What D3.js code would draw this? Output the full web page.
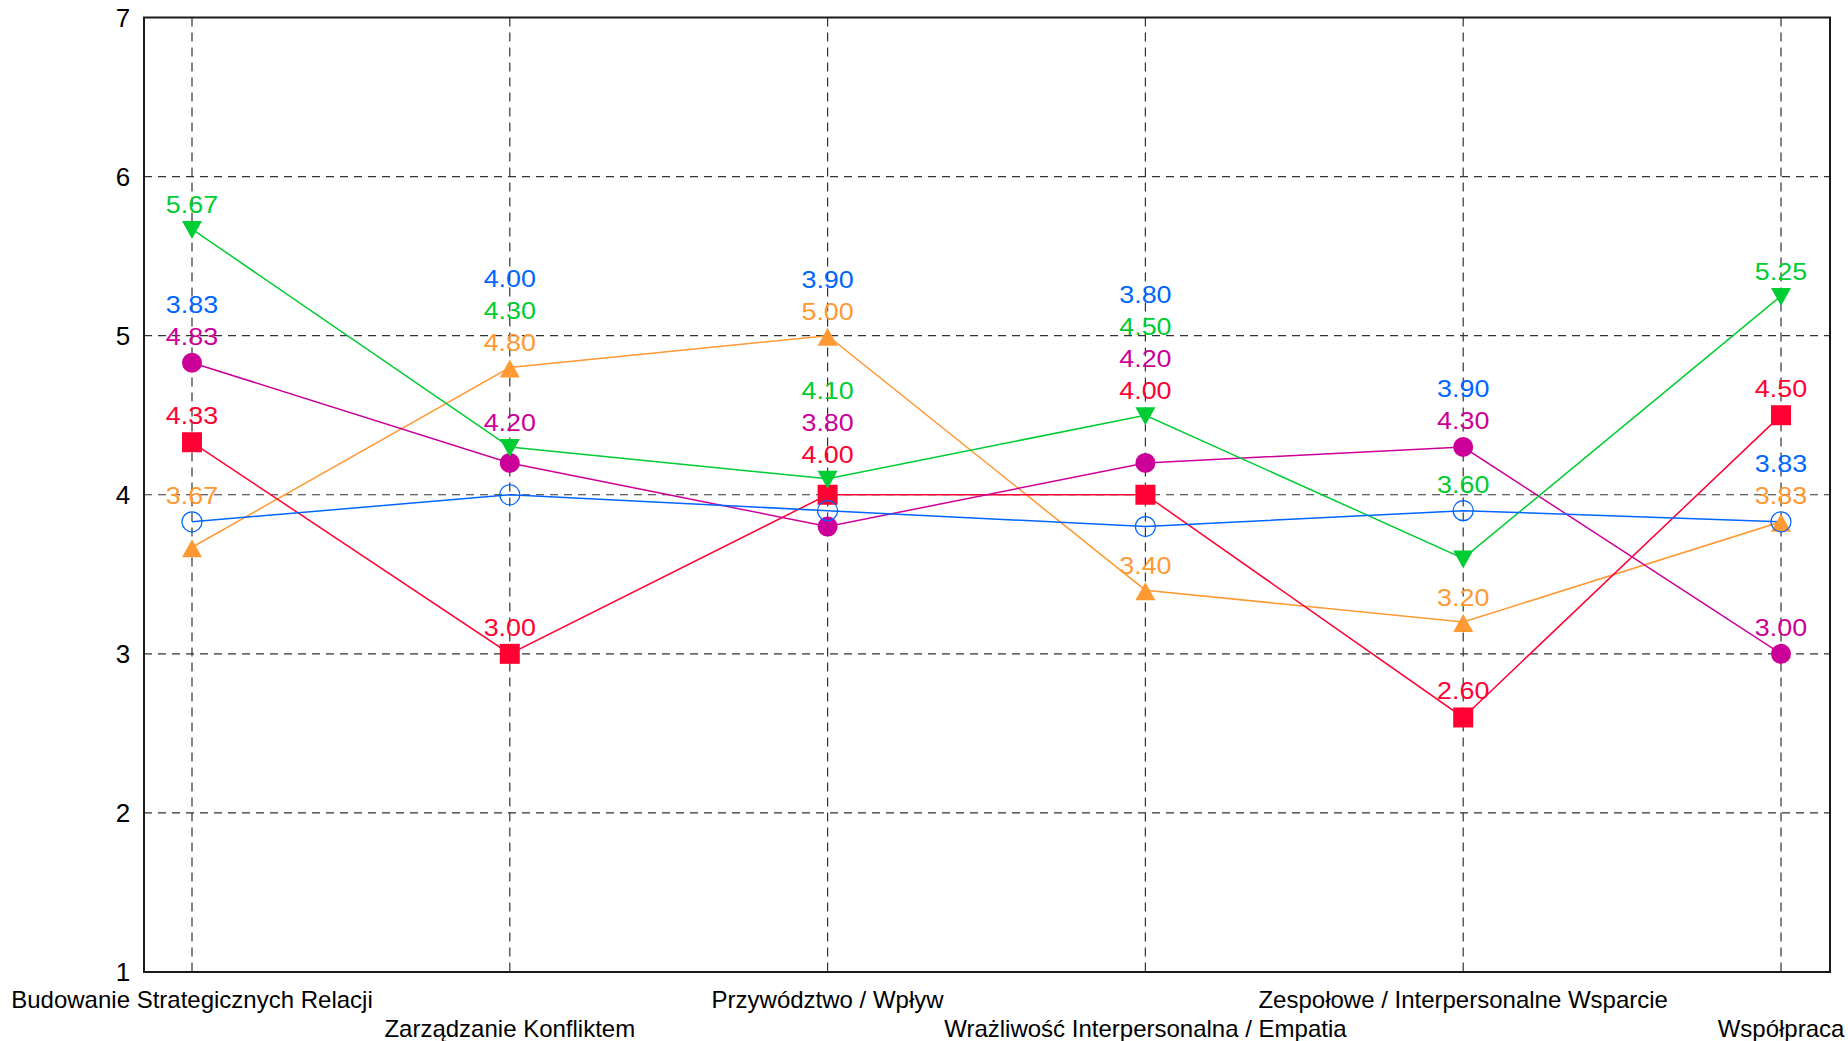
<!DOCTYPE html>
<html><head><meta charset="utf-8">
<script src="https://cdn.jsdelivr.net/npm/d3@7"></script>
<style>body{margin:0;background:#fff}svg{display:block}</style>
</head><body>
<svg id="chart" width="1848" height="1041"></svg>
<script>
const categories = ["Budowanie Strategicznych Relacji","Zarządzanie Konfliktem","Przywództwo / Wpływ","Wrażliwość Interpersonalna / Empatia","Zespołowe / Interpersonalne Wsparcie","Współpraca"];
const valuesBlue = [3.83,4.00,3.90,3.80,3.90,3.83];
const valuesGreen = [5.67,4.30,4.10,4.50,3.60,5.25];
const valuesMagenta = [4.83,4.20,3.80,4.20,4.30,3.00];
const valuesRed = [4.33,3.00,4.00,4.00,2.60,4.50];
const valuesOrange = [3.67,4.80,5.00,3.40,3.20,3.83];
const yTicks = [1,2,3,4,5,6,7];

const FONT = "'Liberation Sans', Arial, sans-serif";
const svg = d3.select("#chart");
const plot = {left:144, right:1830, top:17.5, bottom:972};

const x = d3.scalePoint().domain(d3.range(categories.length)).range([192,1781]);
const y = d3.scaleLinear().domain([1,7]).range([plot.bottom, plot.top]);

const triUp = {draw(ctx){ctx.moveTo(0,-8);ctx.lineTo(10,10);ctx.lineTo(-10,10);ctx.closePath();}};
const triDown = {draw(ctx){ctx.moveTo(-10,-8);ctx.lineTo(10,-8);ctx.lineTo(0,10);ctx.closePath();}};

// placement / drawing order
const series = [
  {values:valuesOrange, color:"#ff9933", type:triUp, size:1, fill:true, ext:[-8,10]},
  {values:valuesRed, color:"#ff0033", type:d3.symbolSquare, size:400, fill:true, ext:[-10,10]},
  {values:valuesMagenta, color:"#cc0099", type:d3.symbolCircle, size:Math.PI*100, fill:true, ext:[-10,10]},
  {values:valuesGreen, color:"#00cc33", type:triDown, size:1, fill:true, ext:[-8,10]},
  {values:valuesBlue, color:"#0066ff", type:d3.symbolCircle, size:Math.PI*100, fill:false, ext:[-10,10]}
];

// grid
const g = svg.append("g");
g.selectAll(".hg").data(yTicks.filter(t=>t>1&&t<7)).join("line")
  .attr("x1",plot.left).attr("x2",plot.right)
  .attr("y1",d=>y(d)).attr("y2",d=>y(d))
  .attr("stroke","#333").attr("stroke-width",1.2).attr("stroke-dasharray","8,6");
g.selectAll(".vg").data(d3.range(categories.length)).join("line")
  .attr("x1",d=>x(d)).attr("x2",d=>x(d))
  .attr("y1",plot.top).attr("y2",plot.bottom)
  .attr("stroke","#333").attr("stroke-width",1.2).attr("stroke-dasharray","9,6");

// frame
svg.append("rect").attr("x",plot.left).attr("y",plot.top)
  .attr("width",plot.right-plot.left).attr("height",plot.bottom-plot.top)
  .attr("fill","none").attr("stroke","#1a1a1a").attr("stroke-width",2);

// y tick labels
svg.selectAll(".yt").data(yTicks).join("text")
  .attr("x",123).attr("y",d=>y(d)).attr("dy","0.36em")
  .attr("text-anchor","middle").attr("font-family",FONT).attr("font-size",26)
  .attr("fill","#000").text(d=>d);

// x labels
svg.selectAll(".xt").data(categories).join("text")
  .attr("x",(d,i)=>x(i)).attr("y",(d,i)=>i%2===0?1007.5:1036.5)
  .attr("text-anchor","middle").attr("font-family",FONT).attr("font-size",24)
  .attr("fill","#000").text(d=>d);

// lines and markers
const line = d3.line().x((d,i)=>x(i)).y(d=>y(d));
series.forEach(s=>{
  svg.append("path").datum(s.values).attr("d",line)
    .attr("fill","none").attr("stroke",s.color).attr("stroke-width",1.5);
});
series.forEach(s=>{
  const sym = d3.symbol().type(s.type).size(s.size);
  svg.append("g").selectAll("path").data(s.values).join("path")
    .attr("transform",(d,i)=>`translate(${x(i)},${y(d)})`)
    .attr("d",sym)
    .attr("fill",s.fill?s.color:"none")
    .attr("stroke",s.color).attr("stroke-width",s.fill?0:1.2);
});

// value labels with collision avoidance (move upward)
const H = 32, GAP = 8, EPS = 0.5;
categories.forEach((c,i)=>{
  const markers = series.map(s=>({s, top:y(s.values[i])+s.ext[0], bottom:y(s.values[i])+s.ext[1]}));
  const placed = [];
  series.forEach(s=>{
    let b = y(s.values[i]) + s.ext[0];
    for (let k=0;k<50;k++){
      const top = b - H;
      const hits = markers.filter(m=>m.s!==s).concat(placed)
        .filter(o=> top < o.bottom - EPS && b > o.top + EPS);
      if (!hits.length) break;
      b = d3.max(hits, o=>o.top);
    }
    placed.push({top:b-H, bottom:b});
    svg.append("text")
      .attr("transform",`translate(${x(i)},${b-GAP}) scale(1.12,1)`)
      .attr("text-anchor","middle").attr("font-family",FONT).attr("font-size",24)
      .attr("fill",s.color).text(s.values[i].toFixed(2));
  });
});
</script>
</body></html>
